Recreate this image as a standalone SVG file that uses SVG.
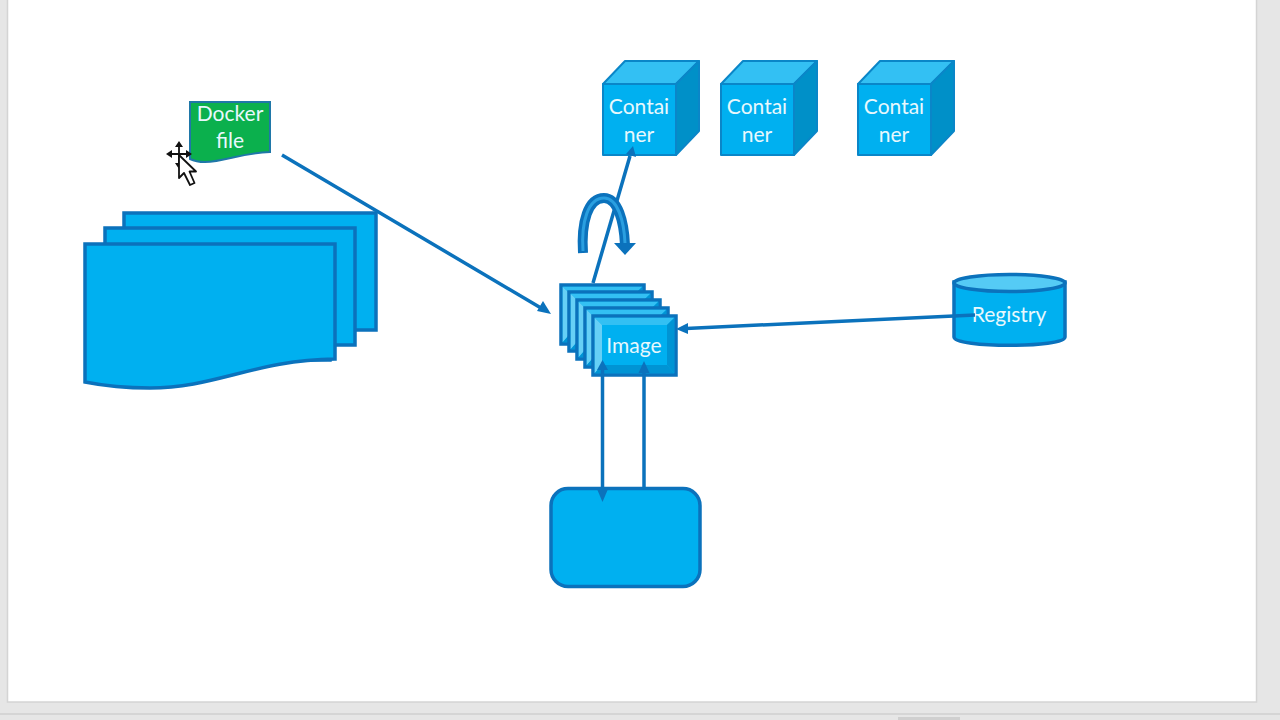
<svg xmlns="http://www.w3.org/2000/svg" width="1280" height="720" viewBox="0 0 1280 720">
<style>
.s{stroke:#0b72bc;stroke-width:3.500;stroke-linejoin:miter}
.n{stroke:#0a86c8;stroke-width:2;stroke-linejoin:round}
.f{fill:#00b0f0}
.lt{fill:#33c0f3}
.ltr{fill:#66d0f6}
.dk{fill:#0090c8}
.t{font-family:Lato,"Liberation Sans",sans-serif;font-size:21px;fill:#e8f8fd;text-anchor:middle}
.c{fill:none;stroke:#0b72bc;stroke-width:3.500}
.h{fill:#0b72bc}
</style>
<defs>
<g id="cube">
<path class="n f" d="M603 84H676V155H603Z"/>
<path class="n lt" d="M603 84L625 61H699L676 84Z"/>
<path class="n dk" d="M676 84L699 61V131L676 155Z"/>
</g>
<g id="bevel">
<path class="s f" d="M0 0H83V59H0Z"/>
<path class="lt" d="M1.700 1.700H81.300L74 9H9Z"/>
<path class="ltr" d="M1.700 1.700L9 9V49L1.700 57.300Z"/>
<path fill="#0094d4" d="M81.300 1.700V57.300L74 49V9Z"/>
<path fill="#0094d4" d="M1.700 57.300H81.300L74 49H9Z"/>
</g>
</defs>
<rect width="1280" height="720" fill="#e6e6e6"/>
<rect x="7.500" y="-2" width="1249" height="704" fill="#fff" stroke="#d4d4d4" stroke-width="1.500"/>
<path d="M0 714H1280" stroke="#cfcfcf" stroke-width="1.500"/>
<rect x="898" y="717" width="62" height="3" fill="#cfcfcf"/>

<g id="multidocument">
<path class="s f" d="M124 213H376V330H300V345H124Z"/>
<path class="s f" d="M105 228H355V345H330V360H105Z"/>
<path class="s f" d="M85 244H335V359C255 360 215 388 150 388C125 388 105 386 85 382Z"/>
</g>

<g id="dockerfile">
<path fill="#0bb04d" stroke="#1f77a8" stroke-width="2" d="M190 102H270V152C240 153 225 162 205 162C198 162 194 161 190 159Z"/>
<text class="t" x="230" y="121">Docker</text>
<text class="t" x="230" y="148">file</text>
</g>

<g id="cursor" stroke-linejoin="round">
<path d="M179 143V166M169 154H189" stroke="#111" stroke-width="1.800" fill="none"/>
<path d="M179 141l-4 6h8ZM166 154l6-4v8ZM192 154l-6-4v8ZM179 169l-4-6h8Z" fill="#111"/>
<path d="M179 155V178L184 173L190 185L194.500 183L189.500 171.500H196Z" fill="#fff" stroke="#111" stroke-width="1.800"/>
</g>

<g id="image">
<use href="#bevel" x="561" y="285"/>
<use href="#bevel" x="569" y="292"/>
<use href="#bevel" x="577" y="300"/>
<use href="#bevel" x="585" y="308"/>
<use href="#bevel" x="593" y="316"/>
<text class="t" x="634" y="353">Image</text>
</g>

<g id="container-1"><use href="#cube"/>
<text class="t" x="639" y="114">Contai</text><text class="t" x="639" y="142">ner</text></g>
<g id="container-2"><use href="#cube" x="118"/>
<text class="t" x="757" y="114">Contai</text><text class="t" x="757" y="142">ner</text></g>
<g id="container-3"><use href="#cube" x="255"/>
<text class="t" x="894" y="114">Contai</text><text class="t" x="894" y="142">ner</text></g>

<g id="registry">
<path class="s f" d="M954 282V337C954 348 1065 348 1065 337V282Z"/>
<ellipse class="s" fill="#55cbf5" cx="1009.500" cy="283" rx="55.500" ry="8.500"/>
<text class="t" x="1009" y="322">Registry</text>
</g>

<g id="box">
<rect class="s f" x="551" y="488.500" width="149" height="98" rx="17"/>
</g>

<g id="connectors">
<path class="c" d="M282 155L541 308"/>
<path class="h" d="M551 314L537 311L543 301Z"/>
<path class="c" d="M593 283L630 156"/>
<path class="h" d="M633 146L636 157L626 154Z"/>
<path class="c" d="M975 315L686 328.500"/>
<path class="h" d="M676 329L688 323V334Z"/>
<path class="c" d="M602.500 365V492"/>
<path class="h" d="M602.500 502L597 489H608Z"/>
<path class="c" d="M644 488V370"/>
<path class="h" d="M644 361L638.500 373H649.500Z"/>
<path class="h" d="M602.500 360L597 370H608Z"/>
<path fill="none" stroke="#0b72bc" stroke-width="10" d="M583 253C581 222 588 198 604 198C618 198 624 222 625 245"/>
<path fill="none" stroke="#2a9fe0" stroke-width="3" d="M583 251C581 222 588 198 604 198C618 198 624 222 625 243"/>
<path class="h" d="M614 243H636L625 255Z"/>
</g>
</svg>
